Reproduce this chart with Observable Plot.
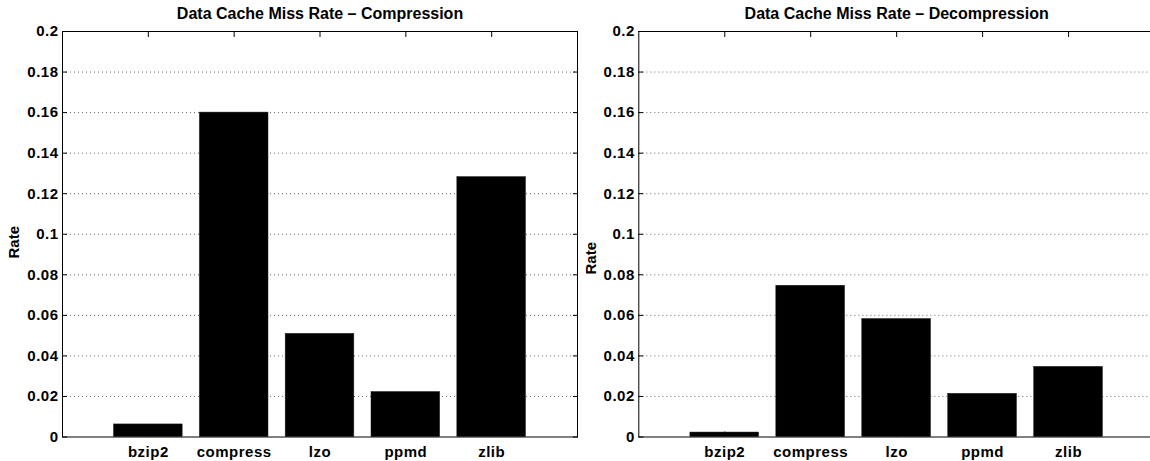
<!DOCTYPE html>
<html>
<head>
<meta charset="utf-8">
<script src="https://cdn.jsdelivr.net/npm/d3@7"></script>
<script src="https://cdn.jsdelivr.net/npm/@observablehq/plot@0.6"></script>
<style>
  html, body { margin: 0; padding: 0; background: #fff; overflow: hidden; }
  #wrap { width: 1150px; height: 461px; overflow: hidden; position: relative; background: #fff; }
  #left { position: absolute; left: 0; top: 0; width: 600px; }
  #right { position: absolute; left: 570px; top: 0; width: 584px; }
  #wrap svg { max-width: none !important; }
  svg text { font-family: "Liberation Sans", Arial, Helvetica, sans-serif; }
</style>
</head>
<body>
<div id="wrap"><div id="left"></div><div id="right"></div></div>
<script>
const categories = ["bzip2", "compress", "lzo", "ppmd", "zlib"];
const compressionRate = [0.0062, 0.160, 0.0509, 0.0222, 0.1282];
const decompressionRate = [0.0022, 0.0746, 0.0582, 0.0213, 0.0346];
const yTicks = [0, 0.02, 0.04, 0.06, 0.08, 0.1, 0.12, 0.14, 0.16, 0.18, 0.2];
const yTickLabels = ["0", "0.02", "0.04", "0.06", "0.08", "0.1", "0.12", "0.14", "0.16", "0.18", "0.2"];
const titles = ["Data Cache Miss Rate \u2013 Compression", "Data Cache Miss Rate \u2013 Decompression"];
const yLabel = "Rate";

const positions = categories.map((c, i) => i + 1);
const barWidth = 0.8;
const font = '"Liberation Sans", Arial, Helvetica, sans-serif';

function panel({title, values, width, marginLeft, marginRight, rateDy}) {
  const rows = categories.map((c, i) => ({category: c, pos: i + 1, value: values[i]}));
  const tickLabelStyle = {fontSize: 15, fontWeight: "bold", fill: "black"};
  return Plot.plot({
    width, height: 461,
    marginTop: 31, marginBottom: 24.5, marginLeft, marginRight,
    style: {fontFamily: font, background: "transparent", color: "black", fontSize: "15px", overflow: "visible"},
    x: {domain: [0, 6], axis: null},
    y: {domain: [0, 0.2], axis: null},
    marks: [
      Plot.ruleY(yTicks.slice(1, -1), {stroke: "#666", strokeDasharray: "1,3", strokeWidth: 1}),
      Plot.rectY(rows, {x1: d => d.pos - barWidth / 2, x2: d => d.pos + barWidth / 2, y1: 0, y2: "value", fill: "black", stroke: "#222", strokeWidth: 0.5}),
      Plot.axisY(yTicks, {anchor: "left", tickSize: 0, tickPadding: 4, label: null,
        tickFormat: d => yTickLabels[yTicks.indexOf(d)], ...tickLabelStyle}),
      Plot.axisY(yTicks, {anchor: "left", tickSize: -5, label: null, tickFormat: () => "", stroke: "black"}),
      Plot.axisY(yTicks, {anchor: "right", tickSize: -5, label: null, tickFormat: () => "", stroke: "black"}),
      Plot.axisX(positions, {anchor: "top", tickSize: -5, label: null, tickFormat: () => "", stroke: "black"}),
      Plot.axisX(positions, {anchor: "bottom", tickSize: -5, label: null, tickFormat: () => "", stroke: "black"}),
      Plot.axisX(positions, {anchor: "bottom", tickSize: 0, tickPadding: 9, label: null,
        tickFormat: p => categories[p - 1], ...tickLabelStyle}),
      Plot.frame({stroke: "black", strokeWidth: 1}),
      Plot.text([title], {frameAnchor: "top", dy: -18, lineAnchor: "middle", fontSize: 16, fontWeight: "bold", fill: "black"}),
      Plot.text([yLabel], {frameAnchor: "left", dx: -48, dy: rateDy, rotate: -90, textAnchor: "middle", lineAnchor: "middle", fontSize: 15, fontWeight: "bold", fill: "black"})
    ]
  });
}

const left = panel({title: titles[0], values: compressionRate, width: 600, marginLeft: 62, marginRight: 23, rateDy: 8});
const right = panel({title: titles[1], values: decompressionRate, width: 584, marginLeft: 68.3, marginRight: 0, rateDy: 24});
document.getElementById("left").appendChild(left);
document.getElementById("right").appendChild(right);

for (const svg of [left, right]) {
  svg.querySelectorAll("g[aria-label='y-axis tick label'] text, g[aria-label='x-axis tick label'] text")
    .forEach(t => t.setAttribute("letter-spacing", "0.5"));
}
</script>
</body>
</html>
